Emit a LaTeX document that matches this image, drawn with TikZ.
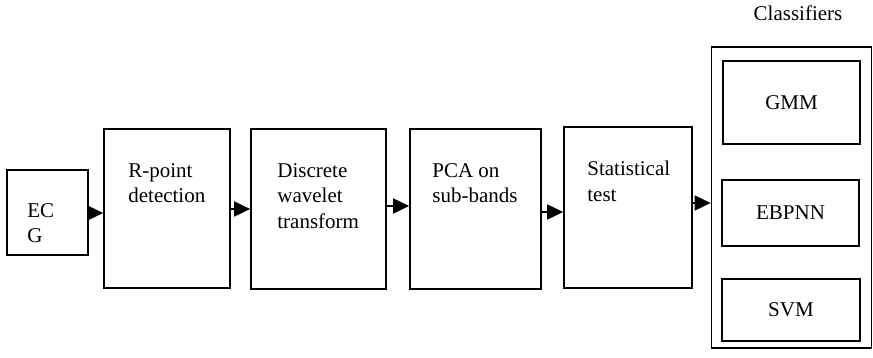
\documentclass[tikz,border=0pt]{standalone}
\usepackage{fontspec}
\setmainfont{Liberation Serif}
\usetikzlibrary{arrows.meta}
\begin{document}
\begin{tikzpicture}[x=1pt,y=-1pt,
  box/.style={draw, line width=1.7pt, inner sep=0pt, rectangle},
  txt/.style={anchor=north west, inner sep=0pt, align=left, font=\fontsize{21}{25.5}\selectfont},
  lbl/.style={font=\fontsize{21}{25.5}\selectfont},
  arr/.style={line width=1.7pt, -{Triangle[length=16pt,width=15pt]}}]
\useasboundingbox (0,0) rectangle (873,358);
% boxes
\node[box, minimum width=81pt, minimum height=85pt] (ecg) at (47.5,212.5) {};
\node[box, minimum width=126pt, minimum height=159pt] (rpt) at (167,208.5) {};
\node[box, minimum width=135pt, minimum height=160pt] (dwt) at (318.5,209) {};
\node[box, minimum width=131pt, minimum height=160pt] (pca) at (475.5,209) {};
\node[box, minimum width=128pt, minimum height=161pt] (stat) at (628,207.5) {};
\node[box, minimum width=160pt, minimum height=301pt] (cls) at (791.5,197.5) {};
\node[box, lbl, minimum width=137pt, minimum height=83pt] (gmm) at (791.5,102.5) {GMM};
\node[box, lbl, minimum width=137pt, minimum height=66pt] (ebp) at (790.5,213) {EBPNN};
\node[box, lbl, minimum width=138pt, minimum height=62pt] (svm) at (791,310) {SVM};
% texts
\node[txt] (ecgt) at ([shift={(21,34)}]ecg.north west) {EC\\G};
\node[txt] (rptt) at ([shift={(25,35)}]rpt.north west) {R-point\\detection};
\node[txt] (dwtt) at ([shift={(27,35)}]dwt.north west) {Discrete\\wavelet\\transform};
\node[txt] (pcat) at ([shift={(23,35)}]pca.north west) {PCA on\\sub-bands};
\node[txt] (statt) at ([shift={(24,35)}]stat.north west) {Statistical\\test};
\node[lbl, anchor=base] (clst) at (798,21) {Classifiers};
% arrows
\draw[arr] (ecg.east |- 0,213) -- (rpt.west |- 0,213);
\draw[arr] (rpt.east |- 0,209) -- (dwt.west |- 0,209);
\draw[arr] (dwt.east |- 0,206) -- (pca.west |- 0,206);
\draw[arr] (pca.east |- 0,212) -- (stat.west |- 0,212);
\draw[arr] (stat.east |- 0,203) -- (cls.west |- 0,203);
\end{tikzpicture}
\end{document}
